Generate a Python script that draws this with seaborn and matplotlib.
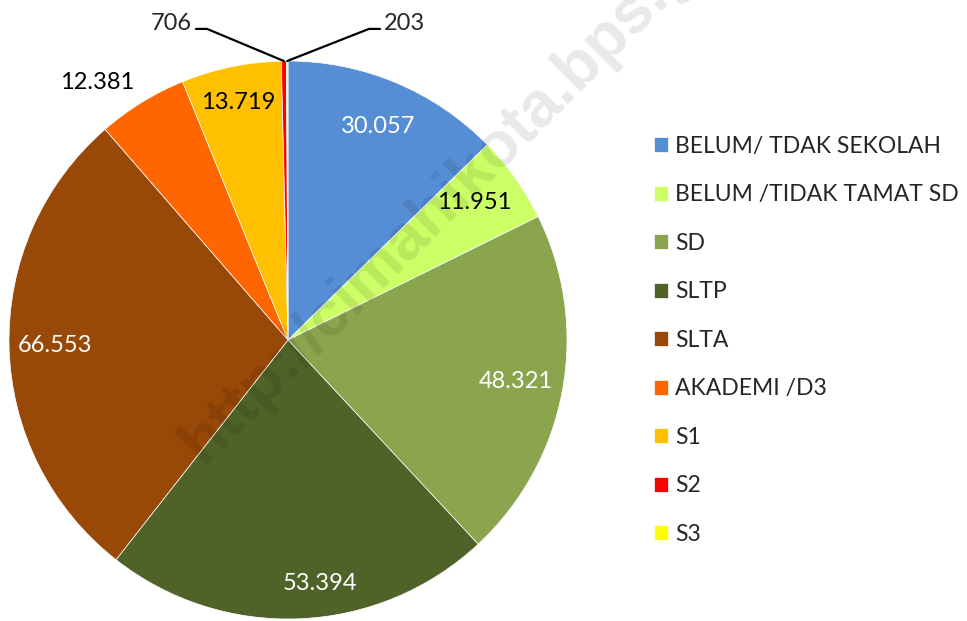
import matplotlib
matplotlib.use("Agg")
import matplotlib.pyplot as plt
import seaborn as sns
import numpy as np

# data
categories = ["BELUM/ TDAK SEKOLAH", "BELUM /TIDAK TAMAT SD", "SD", "SLTP", "SLTA",
              "AKADEMI /D3", "S1", "S2", "S3"]
values = [30057, 11951, 48321, 53394, 66553, 12381, 13719, 706, 203]
value_labels = ["30.057", "11.951", "48.321", "53.394", "66.553", "12.381", "13.719", "706", "203"]

colors = ["#558ED5", "#CCFF66", "#8BA54E", "#4F6228", "#984807",
          "#FF6600", "#FFC000", "#FF0000", "#FFFF00"]
label_colors = ["white", "black", "white", "white", "white", "black", "black", "black", "black"]
# radial distance and angle nudge (deg) for the data labels
label_dist = [0.83, 0.83, 0.83, 0.88, 0.835, 1.15, 0.87, None, None]
label_nudge = [0, 1, 0, 5, 0, 5, 0, 0, 0]

sns.set_theme(style="white")
plt.rcParams['font.family'] = ['Lato', 'DejaVu Sans']

fig = plt.figure(figsize=(9.67, 6.21), dpi=100)
ax = fig.add_axes([9/967, 2/621, 558/967, 558/621])

wedges, _ = ax.pie(values, colors=colors, startangle=90, counterclock=False,
                   radius=1, wedgeprops=dict(edgecolor="white", linewidth=0.5))
ax.set_xlim(-1, 1)
ax.set_ylim(-1, 1)
ax.set_aspect("equal")
ax.axis("off")

for i, w in enumerate(wedges):
    mid = np.deg2rad((w.theta1 + w.theta2) / 2)
    if label_dist[i] is not None:
        a = mid + np.deg2rad(label_nudge[i])
        r = label_dist[i]
        ax.text(r*np.cos(a), r*np.sin(a), value_labels[i], color=label_colors[i],
                fontsize=17, ha="center", va="center")

# leader lines for the two tiny slices
for i, side in [(7, -1), (8, 1)]:
    w = wedges[i]
    mid = np.deg2rad((w.theta1 + w.theta2) / 2)
    x0, y0 = np.cos(mid), np.sin(mid)
    ex, ey = side * 0.29, 1.115
    hx = side * 0.33
    ax.plot([x0, ex, hx], [y0, ey, ey], color="black", lw=1.6, clip_on=False)
    ax.text(hx + side * 0.015, ey - 0.02, value_labels[i], fontsize=17,
            ha="left" if side > 0 else "right", va="bottom")

fig.legend(wedges, categories, loc="center left", bbox_to_anchor=(0.676, 0.452),
           frameon=False, fontsize=16.5, handlelength=0.64, handleheight=0.64,
           handletextpad=0.3, labelspacing=1.2, borderpad=0, borderaxespad=0)

# watermark
fig.text(0.21, 0.252, "http://cimahikota.bps.go.id", rotation=45, fontsize=46,
         fontweight="bold", color="black", alpha=0.09, ha="left", va="baseline",
         rotation_mode="anchor", family=["Liberation Sans", "DejaVu Sans"])

fig.savefig("out.png", dpi=100)
